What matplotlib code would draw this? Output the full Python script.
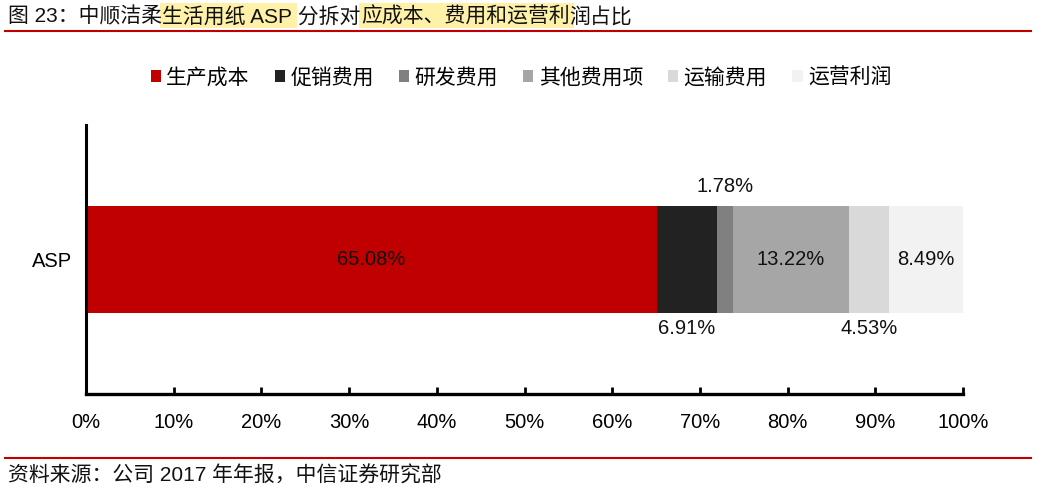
import matplotlib.pyplot as plt
from matplotlib.patches import Patch, Rectangle
from matplotlib.lines import Line2D

plt.rcParams['font.family'] = ['Liberation Sans', 'Noto Sans CJK SC', 'DejaVu Sans']

categories = ['生产成本', '促销费用', '研发费用', '其他费用项', '运输费用', '运营利润']
values = [65.08, 6.91, 1.78, 13.22, 4.53, 8.49]
colors = ['#C00000', '#222222', '#808080', '#A6A6A6', '#D9D9D9', '#F2F2F2']
# where each value label sits: inside, above or below the bar
label_pos = ['in', 'below', 'above', 'in', 'below', 'in']
row_label = 'ASP'
x_ticks = [0, 10, 20, 30, 40, 50, 60, 70, 80, 90, 100]

# title pieces, True = highlighted in the source
title_parts = [('图 23：中顺洁柔', False), ('生活用纸 ASP', True), (' 分拆对', False),
               ('应成本、费用和运营利', True), ('润占比', False)]
source = '资料来源：公司 2017 年年报，中信证券研究部'

fig = plt.figure(figsize=(10.44, 4.9), dpi=100)
ax = fig.add_axes([0.0824, 0.196, 0.84, 0.549])

left = 0
for cat, val, col, pos in zip(categories, values, colors, label_pos):
    ax.barh(0, val, left=left, height=0.4, color=col, label=cat, zorder=2)
    cx = left + val / 2
    y = {'in': 0, 'above': 0.27, 'below': -0.255}[pos]
    ax.text(cx, y, f'{val:.2f}%', ha='center', va='center', fontsize=14.5, color='#111111')
    left += val

ax.set_xlim(0, 100)
ax.set_ylim(-0.5, 0.5)
ax.set_xticks(x_ticks)
ax.set_xticklabels([f'{t}%' for t in x_ticks], fontsize=14.5)
ax.set_yticks([0])
ax.set_yticklabels([row_label], fontsize=14.5)
ax.tick_params(axis='x', direction='in', length=5, width=2, pad=14)
ax.tick_params(axis='y', length=0, pad=10)
for s in ['top', 'right']:
    ax.spines[s].set_visible(False)
ax.spines['bottom'].set_linewidth(2.4)
ax.spines['left'].set_linewidth(2.2)

handles = [Patch(facecolor=c, edgecolor='none') for c in colors]
fig.legend(handles, categories, loc='center', bbox_to_anchor=(0.499, 0.842), ncol=6,
           frameon=False, fontsize=15, handlelength=0.5, handleheight=0.5,
           handletextpad=0.25, columnspacing=1.2)

# title drawn piece by piece so highlights line up with the characters
renderer = fig.canvas.get_renderer()
x = 0.008
W, H = fig.get_size_inches() * fig.dpi
for part, hl in title_parts:
    t = fig.text(x, 0.966, part, fontsize=15, ha='left', va='center', color='#111111', zorder=3)
    bb = t.get_window_extent(renderer)
    w = bb.width / W
    if hl:
        fig.patches.append(Rectangle((x - 0.002, 0.943), w + 0.006, 0.05, transform=fig.transFigure,
                                     facecolor='#FFF2A8', edgecolor='none', zorder=0))
    x += w

fig.add_artist(Line2D([0.005, 0.988], [0.937, 0.937], transform=fig.transFigure,
                      color='#C00000', linewidth=1.5))
fig.add_artist(Line2D([0.005, 0.988], [0.066, 0.066], transform=fig.transFigure,
                      color='#C00000', linewidth=1.5))
fig.text(0.008, 0.029, source, fontsize=15, ha='left', va='center', color='#111111')

fig.savefig('out.png', dpi=100)
